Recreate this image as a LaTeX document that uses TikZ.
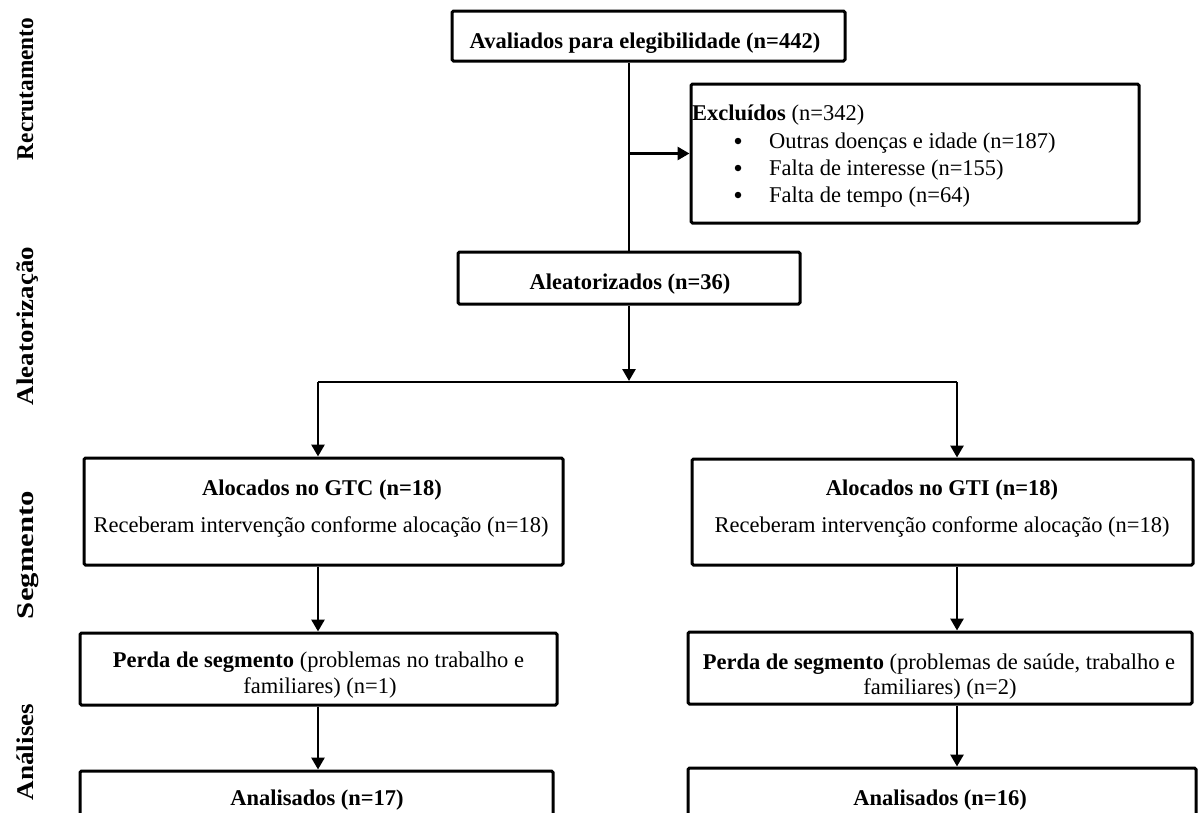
\documentclass[tikz,border=0pt]{standalone}
\usepackage{fontspec}
\setmainfont{Liberation Serif}
\usetikzlibrary{arrows.meta}
\tikzset{
  box/.style={draw, line width=3pt, rounded corners=1.5pt, inner sep=0pt},
  txt/.style={inner sep=0pt, anchor=base},
  txtw/.style={inner sep=0pt, anchor=base west},
  bul/.style={circle, fill, inner sep=0pt, minimum size=6.5pt},
  lab/.style={inner sep=0pt, anchor=base, rotate=90, font=\fontsize{24}{28}\selectfont\bfseries},
  conn/.style={line width=2.8pt},
  arr/.style={conn, -{Triangle[length=12pt,width=13pt]}},
}
\begin{document}
\begin{tikzpicture}[x=1pt, y=-1pt, every node/.append style={font=\fontsize{22.5}{27}\selectfont}]
\useasboundingbox (0,0) rectangle (1199,812);
\clip (0,0) rectangle (1199,812);

% side labels
\node[lab] (lRec) at (33,89) {\scalebox{0.97}[1]{Recrutamento}};
\node[lab] (lAle) at (33,326) {\scalebox{1.12}[1]{Aleatorização}};
\node[lab] (lSeg) at (33,555) {\scalebox{1.28}[1]{Segmento}};
\node[lab] (lAna) at (33,752) {\scalebox{1.13}[1]{Análises}};

% boxes
\node[box, minimum width=393pt, minimum height=50pt] (aval) at (648.5,36) {};
\node[box, minimum width=448pt, minimum height=139pt] (excl) at (915,153.5) {};
\node[box, minimum width=342pt, minimum height=52pt] (aleat) at (629,278) {};
\node[box, minimum width=479pt, minimum height=107pt] (gtc) at (323.5,511.5) {};
\node[box, minimum width=501pt, minimum height=106pt] (gti) at (942.5,512) {};
\node[box, minimum width=477pt, minimum height=72pt] (perda1) at (318.5,669) {};
\node[box, minimum width=504pt, minimum height=72pt] (perda2) at (940,668) {};
\node[box, minimum width=473pt, minimum height=60pt] (anal1) at (316.5,801) {};
\node[box, minimum width=508pt, minimum height=64pt] (anal2) at (942,800) {};

% texts
\node[txt] (tAval) at (645,48) {\bfseries Avaliados para elegibilidade (n=442)};
\node[txtw] (tExcl) at (692,120) {\textbf{Excluídos} (n=342)};
\node[bul] (b1) at (738,141) {};
\node[bul] (b2) at (738,168) {};
\node[bul] (b3) at (738,195) {};
\node[txtw] (e1) at (769,148) {Outras doenças e idade (n=187)};
\node[txtw] (e2) at (769,175) {Falta de interesse (n=155)};
\node[txtw] (e3) at (769,202) {Falta de tempo (n=64)};
\node[txt] (tAleat) at (630,289) {\bfseries Aleatorizados (n=36)};
\node[txt] (tGtc1) at (322,495) {\bfseries Alocados no GTC (n=18)};
\node[txt] (tGtc2) at (321,532) {Receberam intervenção conforme alocação (n=18)};
\node[txt] (tGti1) at (942,495) {\bfseries Alocados no GTI (n=18)};
\node[txt] (tGti2) at (942,532) {Receberam intervenção conforme alocação (n=18)};
\node[txt] (tP1a) at (318.5,667) {\textbf{Perda de segmento} (problemas no trabalho e};
\node[txt] (tP1b) at (320,693) {familiares) (n=1)};
\node[txt] (tP2a) at (939,669) {\textbf{Perda de segmento} (problemas de saúde, trabalho e};
\node[txt] (tP2b) at (940,694) {familiares) (n=2)};
\node[txt] (tA1) at (317,805) {\bfseries Analisados (n=17)};
\node[txt] (tA2) at (940,805) {\bfseries Analisados (n=16)};

% connectors
\coordinate (br) at (aleat.north |- excl.west);
\coordinate (split) at (629,381);
\coordinate (hl) at (318,382);
\coordinate (hr) at (957,382);
\draw[conn] (aleat.north |- aval.south) -- (aleat.north);
\draw[arr] (br) -- (excl.west);
\draw[arr] (aleat.south) -- (split);
\draw[conn] (hl) -- (hr);
\draw[arr] (hl) -- (hl |- gtc.north);
\draw[arr] (hr) -- (hr |- gti.north);
\draw[arr] (hl |- gtc.south) -- (hl |- perda1.north);
\draw[arr] (hr |- gti.south) -- (hr |- perda2.north);
\draw[arr] (hl |- perda1.south) -- (hl |- anal1.north);
\draw[arr] (hr |- perda2.south) -- (hr |- anal2.north);
\end{tikzpicture}
\end{document}
